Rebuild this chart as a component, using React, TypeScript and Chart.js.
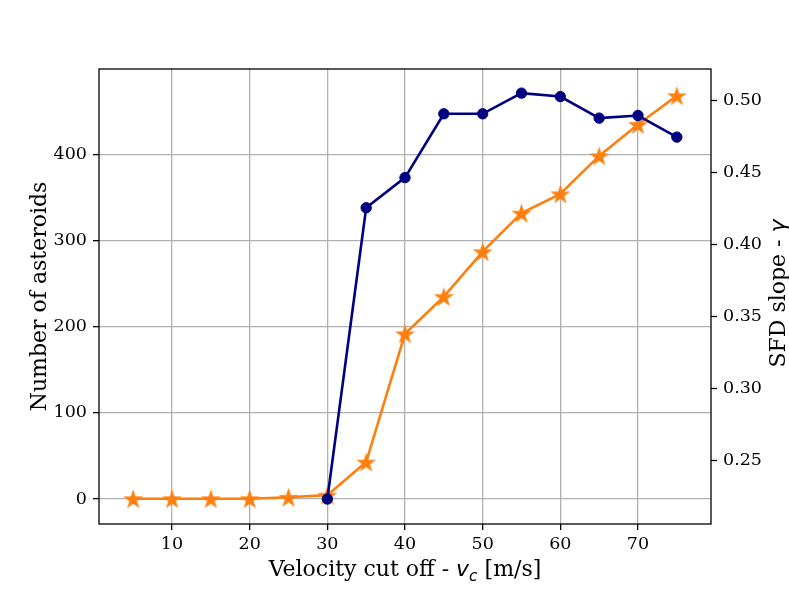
import { useEffect, useRef } from 'react';
import { Chart, registerables } from 'chart.js';

Chart.register(...registerables);

// velocity cut off [m/s] for the SFD slope series
const velocityCut = [5, 10, 15, 20, 25, 30, 35, 40, 45, 50, 55, 60, 65, 70, 75];
const sfdSlope = [0.2237, 0.2237, 0.2237, 0.2237, 0.2247, 0.2262, 0.2491, 0.338, 0.3638, 0.3949, 0.4216, 0.435, 0.4613, 0.483, 0.503];

// asteroid counts only start at 30 m/s
const countVelocity = [30, 35, 40, 45, 50, 55, 60, 65, 70, 75];
const asteroidCount = [0, 338, 373, 447, 447, 471, 467, 442, 445, 420];

const SERIF = "'DejaVu Serif', serif";
const SANS = "'DejaVu Sans', sans-serif";
const NAVY = '#000080';
const ORANGE = '#ff7f0e';
const GRID = '#b0b0b0';
const LABEL = 22;

function starImage(r: number, color: string) {
  const size = Math.ceil(r * 2 + 2);
  const c = document.createElement('canvas');
  c.width = size;
  c.height = size;
  const g = c.getContext('2d')!;
  g.translate(size / 2, size / 2 + r * 0.1);
  g.beginPath();
  for (let i = 0; i < 10; i++) {
    const rad = i % 2 === 0 ? r : r * 0.382;
    const a = -Math.PI / 2 + (i * Math.PI) / 5;
    g.lineTo(rad * Math.cos(a), rad * Math.sin(a));
  }
  g.closePath();
  g.fillStyle = color;
  g.fill();
  return c;
}

type Part = { text: string; font: string; dy?: number };

function drawParts(ctx: CanvasRenderingContext2D, parts: Part[], x: number, y: number, angle: number) {
  ctx.save();
  ctx.translate(x, y);
  ctx.rotate(angle);
  ctx.fillStyle = '#000';
  ctx.textBaseline = 'alphabetic';
  ctx.textAlign = 'left';
  const widths = parts.map((p) => {
    ctx.font = p.font;
    return ctx.measureText(p.text).width;
  });
  let cx = -widths.reduce((a, b) => a + b, 0) / 2;
  parts.forEach((p, i) => {
    ctx.font = p.font;
    ctx.fillText(p.text, cx, p.dy ?? 0);
    cx += widths[i];
  });
  ctx.restore();
}

const labelsPlugin = {
  id: 'axisLabels',
  afterDraw(chart: Chart) {
    const { ctx, chartArea } = chart;
    const midX = (chartArea.left + chartArea.right) / 2;
    const midY = (chartArea.top + chartArea.bottom) / 2;
    drawParts(ctx, [
      { text: 'Velocity cut off - ', font: `${LABEL}px ${SERIF}` },
      { text: 'v', font: `italic ${LABEL}px ${SANS}` },
      { text: 'c', font: `italic ${LABEL * 0.7}px ${SANS}`, dy: 4.5 },
      { text: ' [m/s]', font: `${LABEL}px ${SERIF}` },
    ], midX, 576, 0);
    drawParts(ctx, [{ text: 'Number of asteroids', font: `${LABEL}px ${SERIF}` }], 46, midY, -Math.PI / 2);
    drawParts(ctx, [
      { text: 'SFD slope - ', font: `${LABEL}px ${SERIF}` },
      { text: 'γ', font: `italic ${LABEL}px ${SANS}` },
    ], 785, midY - 3, -Math.PI / 2);
  },
};

const framePlugin = {
  id: 'frame',
  afterDatasetsDraw(chart: Chart) {
    const { ctx, chartArea } = chart;
    ctx.save();
    ctx.strokeStyle = '#000';
    ctx.lineWidth = 1.3;
    ctx.strokeRect(chartArea.left, chartArea.top, chartArea.right - chartArea.left, chartArea.bottom - chartArea.top);
    ctx.restore();
  },
};

const tickFont = { family: SERIF, size: 17.5 };

export default function App() {
  const canvas = useRef<HTMLCanvasElement>(null);
  useEffect(() => {
    if (!canvas.current) return;
    const chart = new Chart(canvas.current, {
      type: 'line',
      data: {
        datasets: [
          {
            data: countVelocity.map((v, i) => ({ x: v, y: asteroidCount[i] })),
            yAxisID: 'yCount',
            borderColor: NAVY,
            backgroundColor: NAVY,
            borderWidth: 2.6,
            pointRadius: 5.2,
            pointBorderWidth: 1,
            pointBorderColor: NAVY,
            pointBackgroundColor: NAVY,
          },
          {
            data: velocityCut.map((v, i) => ({ x: v, y: sfdSlope[i] })),
            yAxisID: 'ySlope',
            borderColor: ORANGE,
            backgroundColor: ORANGE,
            borderWidth: 2.6,
            pointStyle: starImage(10.5, ORANGE),
            pointRadius: 10,
          },
        ],
      },
      options: {
        responsive: false,
        animation: false,
        layout: { padding: { top: 69, left: 0, right: 0, bottom: 0 } },
        plugins: { legend: { display: false }, tooltip: { enabled: false } },
        scales: {
          x: {
            type: 'linear',
            position: 'bottom',
            min: 0.6,
            max: 79.4,
            afterFit: (s: any) => { s.height = 66; },
            border: { display: false },
            grid: { color: GRID, lineWidth: 1.3, tickColor: '#000', tickLength: 6, tickWidth: 1.3 },
            ticks: { stepSize: 10, includeBounds: false, color: '#000', font: tickFont, padding: 4, maxRotation: 0 },
          },
          yCount: {
            type: 'linear',
            position: 'left',
            min: -29,
            max: 499,
            afterFit: (s: any) => { s.width = 99; },
            border: { display: false },
            grid: { color: GRID, lineWidth: 1.3, tickColor: '#000', tickLength: 6, tickWidth: 1.3 },
            ticks: { stepSize: 100, includeBounds: false, color: '#000', font: tickFont, padding: 6 },
          },
          ySlope: {
            type: 'linear',
            position: 'right',
            min: 0.2062,
            max: 0.5215,
            afterFit: (s: any) => { s.width = 78; },
            border: { display: false },
            grid: { drawOnChartArea: false, tickColor: '#000', tickLength: 6, tickWidth: 1.3 },
            ticks: {
              stepSize: 0.05,
              includeBounds: false,
              color: '#000',
              font: tickFont,
              padding: 6,
              callback: (v: any) => Number(v).toFixed(2),
            },
          },
        },
      },
      plugins: [labelsPlugin, framePlugin],
    });
    return () => chart.destroy();
  }, []);
  return (
    <div style={{ position: 'absolute', left: 0, top: 0, width: 789, height: 590, background: '#fff' }}>
      <canvas ref={canvas} width={789} height={590} />
    </div>
  );
}
